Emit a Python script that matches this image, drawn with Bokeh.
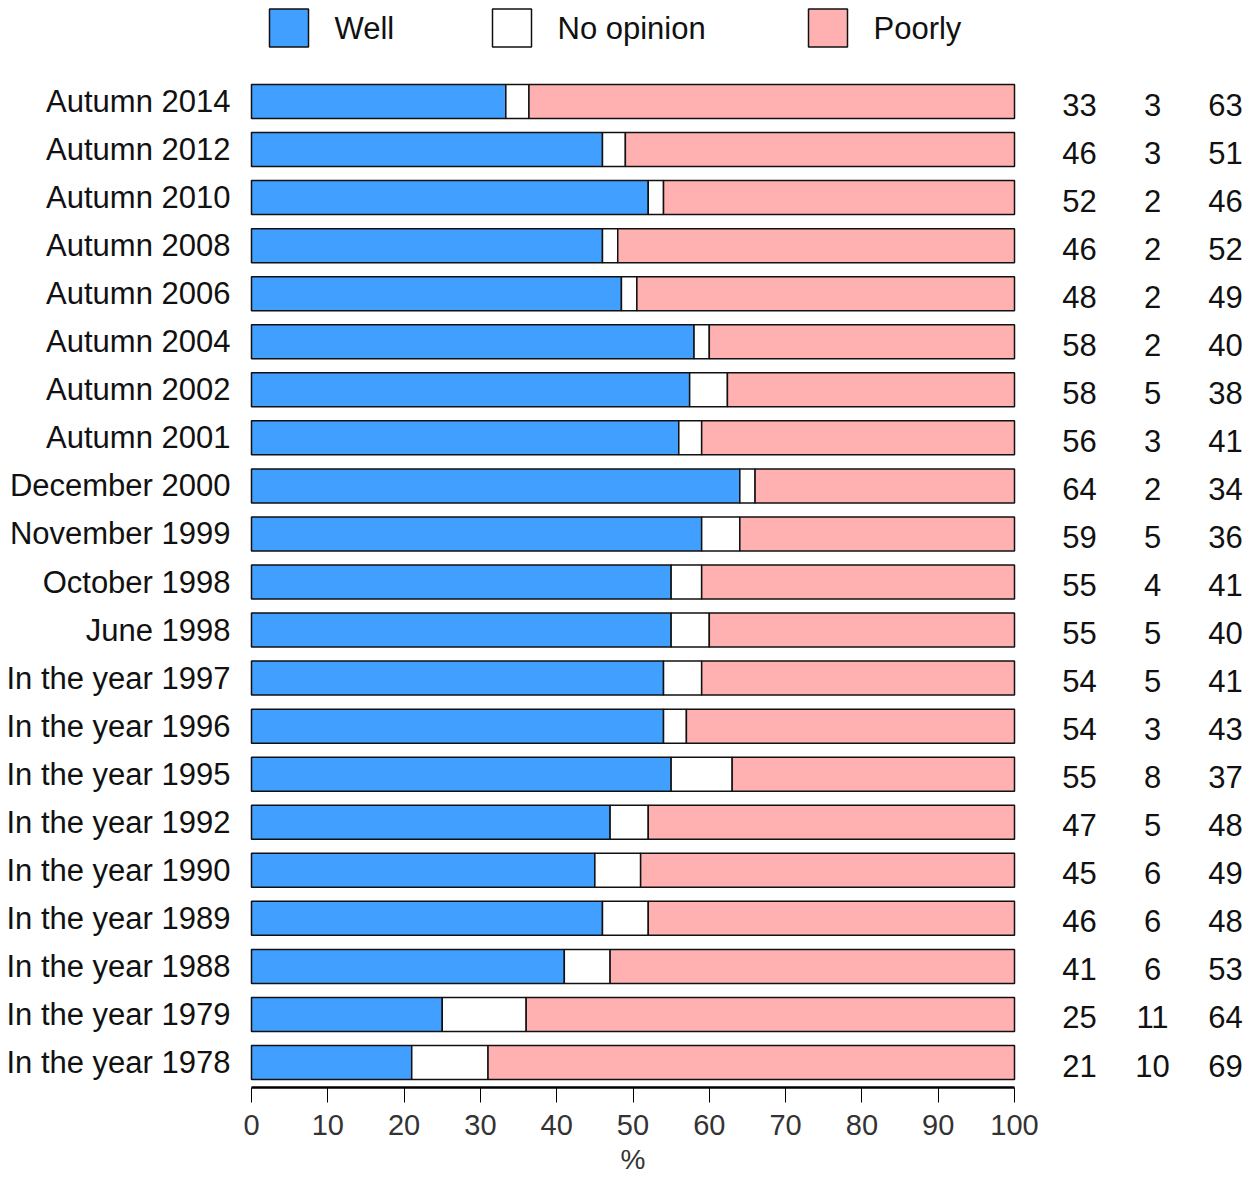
import numpy as np
from bokeh.plotting import figure
from bokeh.models import Range1d, FixedTicker, ColumnDataSource
from bokeh.embed import file_html
from bokeh.resources import INLINE
from bokeh.core.properties import value

# ---------------- data (top row first) ----------------
periods = ["Autumn 2014", "Autumn 2012", "Autumn 2010", "Autumn 2008", "Autumn 2006",
           "Autumn 2004", "Autumn 2002", "Autumn 2001", "December 2000", "November 1999",
           "October 1998", "June 1998", "In the year 1997", "In the year 1996",
           "In the year 1995", "In the year 1992", "In the year 1990", "In the year 1989",
           "In the year 1988", "In the year 1979", "In the year 1978"]
well = [33, 46, 52, 46, 48, 58, 58, 56, 64, 59, 55, 55, 54, 54, 55, 47, 45, 46, 41, 25, 21]
no_opinion = [3, 3, 2, 2, 2, 2, 5, 3, 2, 5, 4, 5, 5, 3, 8, 5, 6, 6, 6, 11, 10]
poorly = [63, 51, 46, 52, 49, 40, 38, 41, 34, 36, 41, 40, 41, 43, 37, 48, 49, 48, 53, 64, 69]
series_names = ["Well", "No opinion", "Poorly"]
x_ticks = [0, 10, 20, 30, 40, 50, 60, 70, 80, 90, 100]
x_axis_title = "%"

# ---------------- style / layout ----------------
COLORS = ["#409fff", "#ffffff", "#ffb1b1"]
FONT = "Liberation Sans"
W, H = 1260, 1178
PX_UNIT = 7.63          # pixels per percent
ZERO_X = 251            # pixel of 0 % within the figure
ROW_PX = 48.05          # pixels per row
AXIS_PIX = 1087         # pixel row of the x axis line
ROW0_PIX = 1062         # pixel (from top) of the lowest row centre
BAR_H = 34 / ROW_PX

n = len(periods)
ypos = np.arange(n)[::-1].astype(float)   # top row gets highest y
w = np.array(well, float)
o = np.array(no_opinion, float)
pr = np.array(poorly, float)
tot = w + o + pr
w_end = w / tot * 100
o_end = (w + o) / tot * 100

src = ColumnDataSource(dict(
    y=ypos, period=periods, w_end=w_end, o_end=o_end, zero=np.zeros(n), hundred=np.full(n, 100.0),
    well_s=[str(v) for v in well], no_s=[str(v) for v in no_opinion], poor_s=[str(v) for v in poorly],
))

def px_to_x(px):
    return (px - ZERO_X) / PX_UNIT

def py_to_y(py):
    return (ROW0_PIX - py) / ROW_PX

p = figure(width=W, height=H, output_backend="svg", toolbar_location=None,
           x_range=Range1d(px_to_x(0), px_to_x(W)), y_range=Range1d(py_to_y(H), py_to_y(0)),
           y_axis_location=None, min_border_left=0, min_border_right=0,
           min_border_top=0, min_border_bottom=0)
p.outline_line_color = None
p.grid.visible = False
p.background_fill_color = "white"

EDGE = "#111111"
p.hbar(y="y", left="zero", right="w_end", height=BAR_H, source=src,
       fill_color=COLORS[0], line_color=EDGE, line_width=1.5)
p.hbar(y="y", left="w_end", right="o_end", height=BAR_H, source=src,
       fill_color=COLORS[1], line_color=EDGE, line_width=1.5)
p.hbar(y="y", left="o_end", right="hundred", height=BAR_H, source=src,
       fill_color=COLORS[2], line_color=EDGE, line_width=1.5)

# category labels on the left
p.text(x=px_to_x(230), y="y", text="period", source=src, text_align="right",
       text_baseline="middle", text_font=value(FONT), text_font_size="31px", text_color="#111111")

# value columns on the right
for col, xp in zip(["well_s", "no_s", "poor_s"], [1079, 1152, 1225]):
    p.text(x=px_to_x(xp), y="y", text=col, source=src, text_align="center",
           text_baseline="middle", y_offset=3, text_font=value(FONT), text_font_size="31px",
           text_color="#111111")

# legend at the top
leg_y = py_to_y(27.5)
box_px = [288.5, 511.5, 827.5]
txt_px = [334, 557, 873]
leg_src = ColumnDataSource(dict(
    bx=[px_to_x(b) for b in box_px], tx=[px_to_x(t) for t in txt_px],
    y=[leg_y] * 3, color=COLORS, name=series_names))
p.rect(x="bx", y="y", width=39, height=38, width_units="screen", height_units="screen",
       fill_color="color", line_color=EDGE, line_width=1.5, source=leg_src)
p.text(x="tx", y="y", text="name", source=leg_src, text_align="left", text_baseline="middle",
       text_font=value(FONT), text_font_size="31px", text_color="#111111")

# x axis, fixed at its pixel row inside the frame
ax = p.xaxis[0]
ax.fixed_location = py_to_y(AXIS_PIX)
ax.ticker = FixedTicker(ticks=x_ticks)
ax.bounds = (0, 100)
ax.axis_line_width = 2.5
ax.axis_line_color = "black"
ax.major_tick_in = 0
ax.major_tick_out = 15
ax.major_tick_line_color = "black"
ax.major_tick_line_width = 1
ax.minor_tick_line_color = None
ax.major_label_standoff = 12
ax.major_label_text_font = FONT
ax.major_label_text_font_size = "29px"
ax.major_label_text_color = "#333333"

# axis title
p.text(x=[50], y=[py_to_y(1159)], text=[x_axis_title], text_align="center", text_baseline="middle",
       text_font=value(FONT), text_font_size="28px", text_color="#333333")

open("out.html", "w").write(file_html(p, INLINE))
